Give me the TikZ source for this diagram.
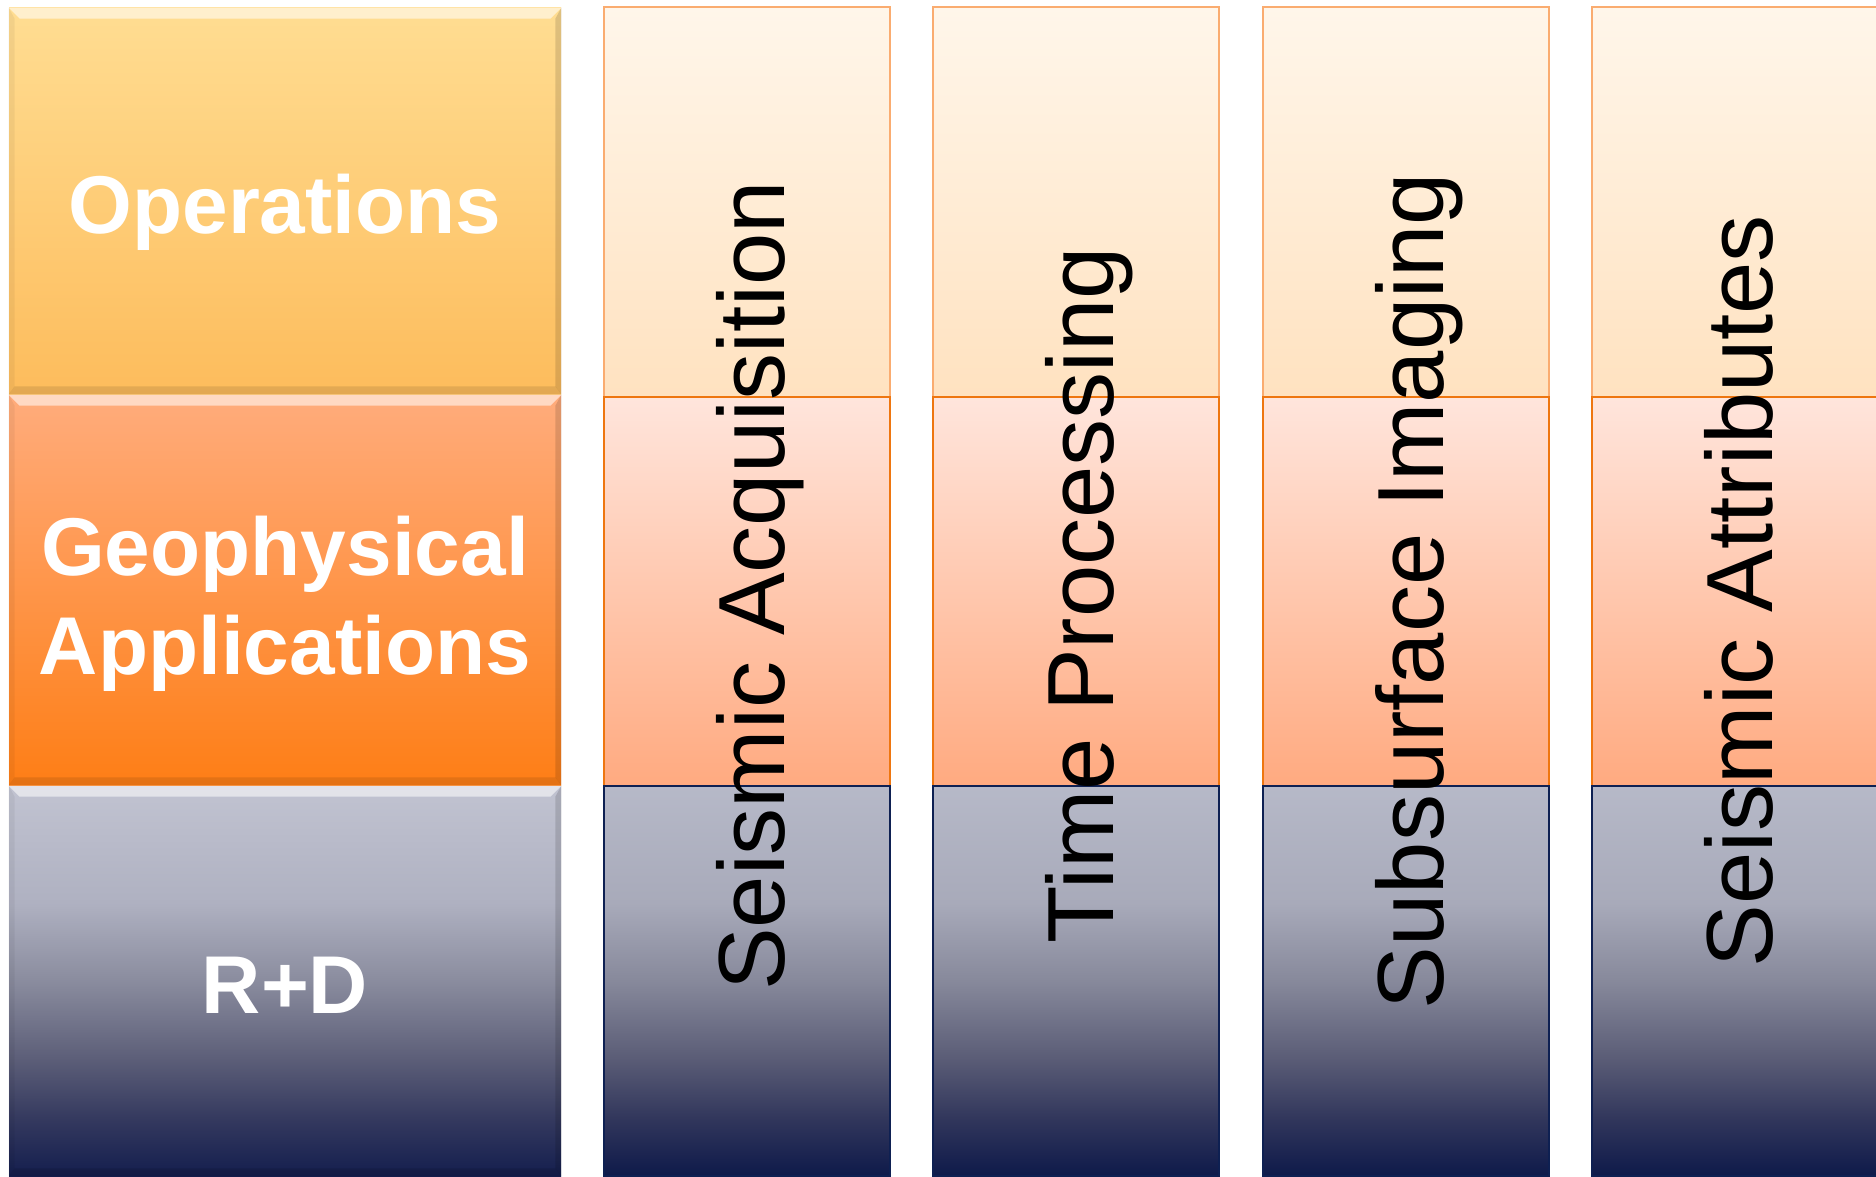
\documentclass[tikz,border=0pt]{standalone}
\usepackage{fontspec}
\setmainfont{Liberation Sans}
\definecolor{opsT}{RGB}{255,221,146}
\definecolor{opsB}{RGB}{253,188,92}
\definecolor{geoT}{RGB}{255,172,124}
\definecolor{geoB}{RGB}{254,126,22}
\definecolor{segAT}{RGB}{255,246,234}
\definecolor{segAB}{RGB}{255,226,192}
\definecolor{segAD}{RGB}{250,172,112}
\definecolor{segBT}{RGB}{255,229,220}
\definecolor{segBB}{RGB}{255,170,128}
\definecolor{segBD}{RGB}{238,118,16}
\definecolor{segCD}{RGB}{14,32,82}
\pgfdeclareverticalshading{navyshade}{100bp}{%
  rgb(0bp)=(0.055,0.102,0.290);
  rgb(25bp)=(0.055,0.102,0.290);
  rgb(32.5bp)=(0.196,0.216,0.361);
  rgb(40bp)=(0.353,0.361,0.463);
  rgb(50bp)=(0.529,0.537,0.608);
  rgb(60bp)=(0.659,0.667,0.729);
  rgb(75bp)=(0.714,0.725,0.784);
  rgb(100bp)=(0.714,0.725,0.784)}
\pgfdeclareverticalshading{rdshade}{100bp}{%
  rgb(0bp)=(0.078,0.118,0.306);
  rgb(25bp)=(0.078,0.118,0.306);
  rgb(32.5bp)=(0.208,0.227,0.373);
  rgb(40bp)=(0.361,0.369,0.471);
  rgb(50bp)=(0.541,0.549,0.620);
  rgb(60bp)=(0.686,0.694,0.757);
  rgb(75bp)=(0.757,0.765,0.820);
  rgb(100bp)=(0.757,0.765,0.820)}
\newcommand\bevelbox[1]{%
  \shade[top color=white, bottom color=white, top color=white, fill opacity=0.55] (#1.north west) -- (#1.north east) -- ([shift={(-11,11)}]#1.north east) -- ([shift={(11,11)}]#1.north west) -- cycle;
  \fill[black, fill opacity=0.05] (#1.north west) -- ([shift={(6,11)}]#1.north west) -- ([shift={(6,-8)}]#1.south west) -- (#1.south west) -- cycle;
  \fill[black, fill opacity=0.13] (#1.north east) -- ([shift={(-6,11)}]#1.north east) -- ([shift={(-6,-8)}]#1.south east) -- (#1.south east) -- cycle;
  \fill[black, fill opacity=0.1] (#1.south west) -- ([shift={(6,-8)}]#1.south west) -- ([shift={(-6,-8)}]#1.south east) -- (#1.south east) -- cycle;
}
\begin{document}
\begin{tikzpicture}[x=0.5pt,y=-0.5pt,
  lbox/.style={rectangle, inner sep=0pt, minimum width=276pt},
  seg/.style={rectangle, draw, line width=1pt, inner sep=0pt, minimum width=143pt},
  vlbl/.style={font=\fontsize{47}{56}\selectfont, text=black, rotate=90, anchor=base, inner sep=0pt},
  blbl/.style={font=\bfseries\fontsize{41}{49.5}\selectfont, text=white, anchor=base, inner sep=0pt, align=center}]
\useasboundingbox (0,0) rectangle (1876,1177);
\fill[white] (0,0) rectangle (1876,1177);
% left boxes
\node[lbox, minimum height=193pt, top color=opsT, bottom color=opsB] (ops) at (285,201) {};
\node[lbox, minimum height=195pt, top color=geoT, bottom color=geoB] (geo) at (285,590) {};
\node[lbox, minimum height=195pt, shading=rdshade] (rd) at (285,981) {};
\bevelbox{ops}
\bevelbox{geo}
\bevelbox{rd}
\node[blbl] (opst) at (285,234) {Operations};
\node[blbl] (geot) at (285,674) {Geophysical\\Applications};
\node[blbl] (rdt) at (285,1013) {R+D};
% columns
\foreach \cx/\n in {747/1,1076/2,1406/3,1735/4}{
  \node[seg, draw=segAD, minimum height=195pt, top color=segAT, bottom color=segAB] (c\n a) at (\cx,202) {};
  \node[seg, draw=segBD, minimum height=194.5pt, top color=segBT, bottom color=segBB] (c\n b) at (\cx,591.5) {};
  \node[seg, draw=segCD, minimum height=195pt, shading=navyshade] (c\n c) at (\cx,981) {};
}
\node[vlbl] (t1) at (784.5,586) {Seismic Acquisition};
\node[vlbl] (t2) at (1113.5,595) {Time Processing};
\node[vlbl] (t3) at (1443.5,591) {Subsurface Imaging};
\node[vlbl] (t4) at (1772.5,591) {Seismic Attributes};
\end{tikzpicture}
\end{document}
